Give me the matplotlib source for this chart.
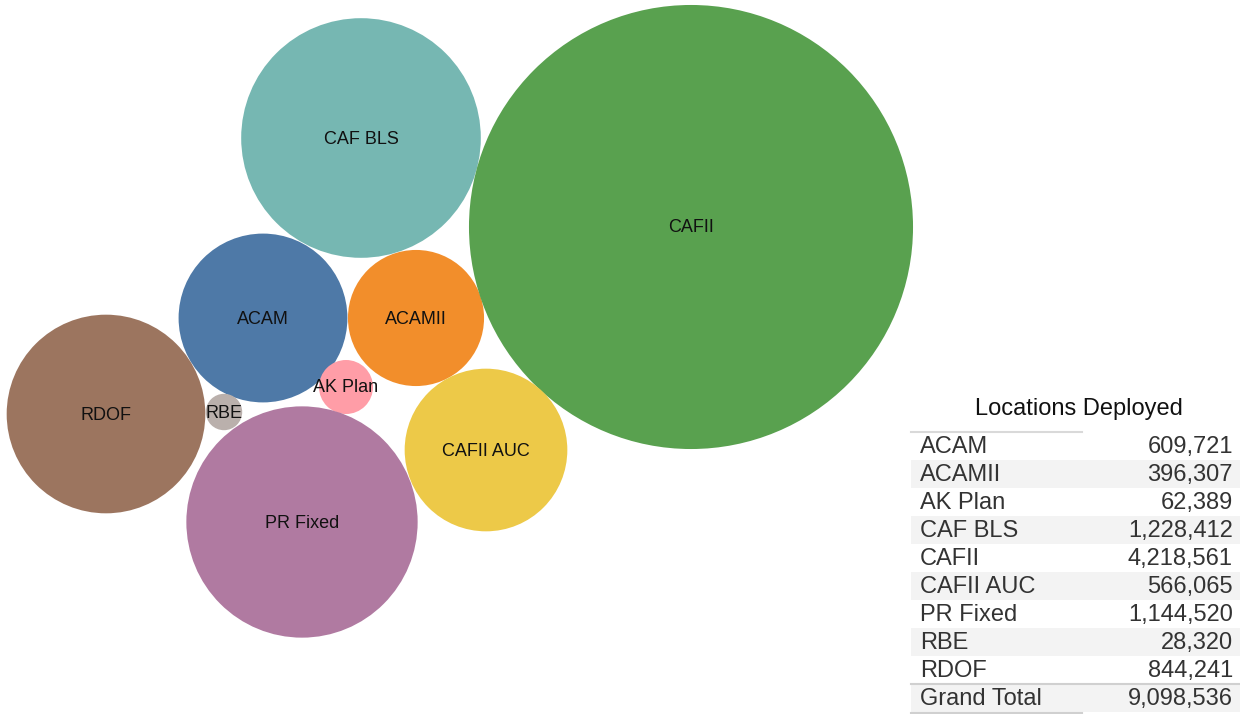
import numpy as np
import matplotlib
matplotlib.use("Agg")
import matplotlib.pyplot as plt
from matplotlib.patches import Circle, Rectangle

# data
programs = ["ACAM", "ACAMII", "AK Plan", "CAF BLS", "CAFII",
            "CAFII AUC", "PR Fixed", "RBE", "RDOF"]
locations = [609721, 396307, 62389, 1228412, 4218561,
             566065, 1144520, 28320, 844241]
colors = ["#4E79A7", "#F28E2B", "#FF9DA7", "#76B7B2", "#59A14F",
          "#EDC948", "#B07AA1", "#BAB0AC", "#9C755F"]

# bubble layout (pixel space, same order as programs)
centers = [(263, 318), (416, 318), (346, 387), (361, 138), (691, 227),
           (486, 450), (302, 522), (224, 412), (106, 414)]
scale = 0.1081  # radius = scale * sqrt(value)

plt.rcParams["font.family"] = ["Liberation Sans", "DejaVu Sans"]

fig = plt.figure(figsize=(12.4, 7.14), dpi=100)
ax = fig.add_axes([0, 0, 1, 1])
ax.set_xlim(0, 1240)
ax.set_ylim(714, 0)
ax.set_aspect("equal")
ax.axis("off")

for name, val, col, (cx, cy) in zip(programs, locations, colors, centers):
    r = scale * np.sqrt(val)
    ax.add_patch(Circle((cx, cy), r, facecolor=col, edgecolor="none"))
    ax.text(cx, cy + 1, name, ha="center", va="center", fontsize=13, color="#111111")

# table
x0, x1 = 911, 1240
row_h = 28
top = 432
ax.text(1079, 409, "Locations Deployed", ha="center", va="center",
        fontsize=17, color="#111111")
ax.plot([x0, 1082], [top, top], color="#d9d9d9", lw=1.5)

rows = list(zip(programs, locations)) + [("Grand Total", sum(locations))]
for i, (name, val) in enumerate(rows):
    y = top + i * row_h
    if i % 2 == 1:
        ax.add_patch(Rectangle((x0, y), x1 - x0, row_h, facecolor="#f3f3f3",
                               edgecolor="none"))
    ax.text(920, y + row_h / 2 + 1, name, ha="left", va="center",
            fontsize=17, color="#333333")
    ax.text(1233, y + row_h / 2 + 1, f"{val:,}", ha="right", va="center",
            fontsize=17, color="#333333")

gt_y = top + len(programs) * row_h
ax.plot([x0, x1], [gt_y, gt_y], color="#d0d0d0", lw=1.5)
ax.plot([x0, 1082], [gt_y + row_h + 1, gt_y + row_h + 1], color="#d0d0d0", lw=1.5)

fig.savefig("out.png", dpi=100)
